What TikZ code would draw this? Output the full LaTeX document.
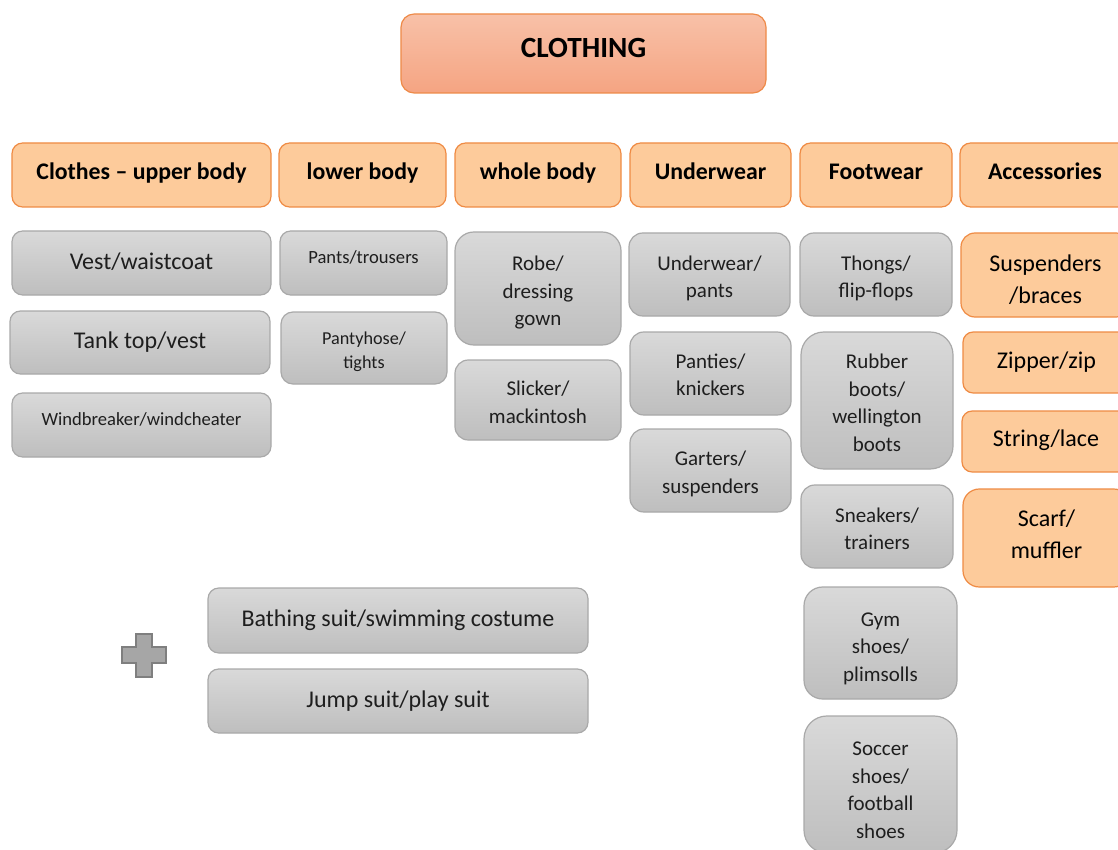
\documentclass[tikz,border=0pt]{standalone}
\usepackage{fontspec}
\setmainfont{Carlito}
\definecolor{titletop}{HTML}{F8C1A8}
\definecolor{titlebot}{HTML}{F5A482}
\definecolor{titleline}{HTML}{EE8A48}
\definecolor{orfill}{HTML}{FDCB9B}
\definecolor{orline}{HTML}{EF8B44}
\definecolor{gtop}{HTML}{D9D9D9}
\definecolor{gbot}{HTML}{BEBEBE}
\definecolor{gline}{HTML}{A9A9A9}
\definecolor{gtext}{HTML}{1E1E1E}
\definecolor{plusfill}{HTML}{A6A6A6}
\definecolor{plusline}{HTML}{7F7F7F}

\tikzset{
  base/.style={draw, line width=1.2pt, inner sep=2pt, text=black},
  title/.style={base, draw=titleline, top color=titletop, bottom color=titlebot,
    font=\bfseries\fontsize{29.3}{34}\selectfont},
  head/.style={base, draw=orline, fill=orfill, font=\bfseries\fontsize{23.8}{29}\selectfont},
  acc/.style={base, draw=orline, fill=orfill, font=\fontsize{24}{31.5}\selectfont},
  grey/.style={base, draw=gline, top color=gtop, bottom color=gbot, text=gtext},
  big/.style={font=\fontsize{24}{31}\selectfont},
  mid/.style={font=\fontsize{21}{27.5}\selectfont},
  small/.style={font=\fontsize{18.6}{22}\selectfont},
}

% rounded box given by its corners: style, name, x1, y1, x2, y2,
% downward text offset, text (lines separated by \\)
\newcommand\boxnode[8]{%
  \pgfmathsetmacro\bw{#5-#3}%
  \pgfmathsetmacro\bh{#6-#4}%
  \pgfmathsetmacro\bcx{(#3+#5)/2}%
  \pgfmathsetmacro\bcy{(#4+#6)/2}%
  \pgfmathsetmacro\br{min(\bw,\bh)/6}%
  \node[#1, minimum width=\bw pt, minimum height=\bh pt, rounded corners=\br pt] (#2) at (\bcx,\bcy)
    {\raisebox{-#7pt}[\height][\depth]{\begin{tabular}{@{}c@{}}#8\end{tabular}}};%
}

\begin{document}
\begin{tikzpicture}[x=1pt, y=-1pt]
\clip (0,0) rectangle (1118,850);
\fill[white] (0,0) rectangle (1118,850);

% title
\boxnode{title}{clothing}{401}{14}{766}{93}{-3}{CLOTHING}

% column headers
\boxnode{head}{hUpper}{12}{143}{271}{207}{-1}{Clothes – upper body}
\boxnode{head}{hLower}{279}{143}{446}{207}{-1}{lower body}
\boxnode{head}{hWhole}{455}{143}{621}{207}{-1}{whole body}
\boxnode{head}{hUnder}{630}{143}{791}{207}{-1}{Underwear}
\boxnode{head}{hFoot}{800}{143}{952}{207}{-1}{Footwear}
\boxnode{head}{hAcc}{960}{143}{1130}{207}{-1}{Accessories}

% upper body
\boxnode{grey,big}{vest}{12}{231}{271}{295}{0}{Vest/waistcoat}
\boxnode{grey,big}{tank}{10}{311}{270}{374}{0}{Tank top/vest}
\boxnode{grey,small}{wind}{12}{393}{271}{457}{-4}{Windbreaker/windcheater}

% lower body
\boxnode{grey,small}{pants}{280}{231}{447}{295}{-4.4}{Pants/trousers}
\boxnode{grey,font=\fontsize{18.2}{24.5}\selectfont}{hose}{281}{312}{447}{384}{3.4}{Pantyhose/\\tights}

% whole body
\boxnode{grey,mid}{robe}{455}{232}{621}{345}{4}{Robe/\\dressing\\gown}
\boxnode{grey,mid}{slicker}{455}{360}{621}{440}{4}{Slicker/\\mackintosh}

% underwear
\boxnode{grey,mid}{uwear}{629}{233}{790}{316}{4}{Underwear/\\pants}
\boxnode{grey,mid}{panties}{630}{332}{791}{415}{3}{Panties/\\knickers}
\boxnode{grey,mid}{garters}{630}{429}{791}{512}{3.5}{Garters/\\suspenders}

% footwear
\boxnode{grey,mid}{thongs}{800}{233}{952}{316}{4}{Thongs/\\flip-flops}
\boxnode{grey,mid}{rubber}{801}{332}{953}{469}{4}{Rubber\\boots/\\wellington\\boots}
\boxnode{grey,mid}{sneakers}{801}{485}{953}{568}{4}{Sneakers/\\trainers}
\boxnode{grey,mid}{gym}{804}{587}{957}{699}{5}{Gym\\shoes/\\plimsolls}
\boxnode{grey,mid}{soccer}{804}{716}{957}{853}{7}{Soccer\\shoes/\\football\\shoes}

% accessories
\boxnode{acc}{susp}{961}{233}{1130}{317}{6}{Suspenders\\/braces}
\boxnode{acc}{zip}{963}{332}{1130}{393}{0}{Zipper/zip}
\boxnode{acc}{string}{962}{411}{1130}{472}{-1}{String/lace}
\boxnode{acc}{scarf}{963}{489}{1130}{587}{-2}{Scarf/\\muffler}

% extra items
\boxnode{grey,big}{bath}{208}{588}{588}{653}{0}{Bathing suit/swimming costume}
\boxnode{grey,big}{jump}{208}{669}{588}{733}{0}{Jump suit/play suit}

% plus sign
\draw[fill=plusfill, draw=plusline, line width=1.5pt]
  (136,634) -- (152,634) -- (152,647) -- (166,647) -- (166,663) -- (152,663)
  -- (152,677) -- (136,677) -- (136,663) -- (122,663) -- (122,647) -- (136,647) -- cycle;
\end{tikzpicture}
\end{document}
